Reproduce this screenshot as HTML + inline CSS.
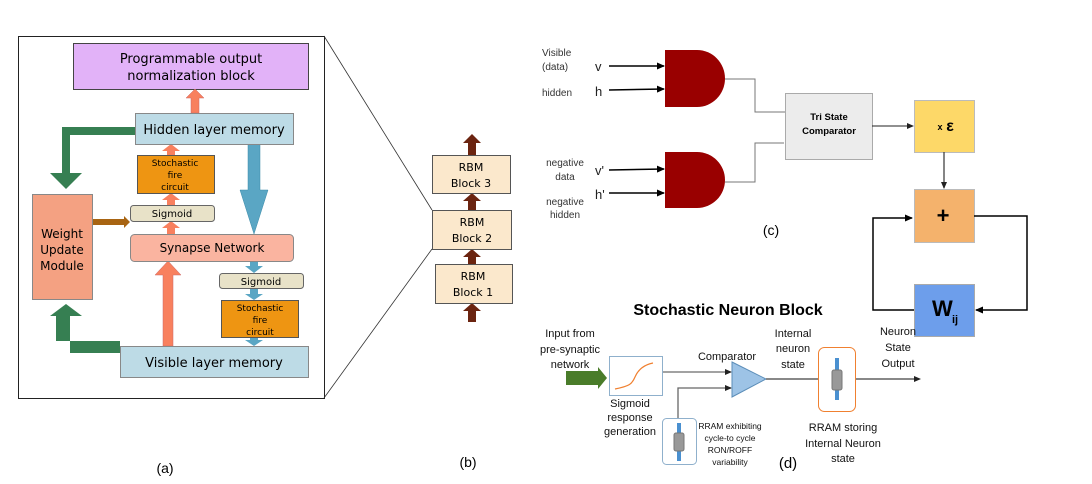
<!DOCTYPE html>
<html><head><meta charset="utf-8"><style>
html,body{margin:0;padding:0;background:#fff}
svg{display:block}
text{font-family:"DejaVu Sans","Liberation Sans",sans-serif}
.l,.l text{font-family:"Liberation Sans",sans-serif}
</style></head><body>
<svg width="1092" height="484" viewBox="0 0 1092 484" xmlns="http://www.w3.org/2000/svg">
<defs>
<marker id="ah" markerWidth="8" markerHeight="8" refX="7" refY="4" orient="auto" markerUnits="userSpaceOnUse"><path d="M0,0.5 L8,4 L0,7.5z" fill="#000"/></marker>
<marker id="ahs" markerWidth="7" markerHeight="7" refX="6" refY="3.5" orient="auto" markerUnits="userSpaceOnUse"><path d="M0,0.5 L7,3.5 L0,6.5z" fill="#222"/></marker>
</defs>
<!-- Panel a -->
<rect x="18.5" y="36.5" width="306" height="362" fill="#fff" stroke="#222" stroke-width="1"/>
<rect x="73.5" y="43.5" width="235" height="46" fill="#e2b2f8" stroke="#444"/>
<text x="191" y="63" font-size="13" text-anchor="middle">Programmable output</text>
<text x="191" y="80" font-size="13" text-anchor="middle">normalization block</text>
<path d="M135,127 L62,127 L62,173 L50,173 L66,189 L82,173 L70,173 L70,135 L135,135z" fill="#367f52"/>
<path d="M120,341 L56,341 L56,316 L50,316 L66,304 L82,316 L70,316 L70,353 L120,353z" fill="#367f52"/>
<path d="M191,113 L191,98 L186,98 L195,89 L204,98 L199,98 L199,113z" fill="#f8805e" stroke="#c66" stroke-width=".5"/>
<path d="M167,155 L167,151 L162,151 L171,144 L180,151 L175,151 L175,155z" fill="#f8805e"/>
<path d="M167,205 L167,200 L162,200 L171,193 L180,200 L175,200 L175,205z" fill="#f8805e"/>
<path d="M167,234 L167,228 L162,228 L171,221 L180,228 L175,228 L175,234z" fill="#f8805e"/>
<path d="M163,346 L163,275 L155,275 L168,261 L181,275 L173,275 L173,346z" fill="#f8805e" stroke="#c66" stroke-width=".5"/>
<path d="M248,144 L248,190 L240,190 L254,234 L268,190 L260,190 L260,144z" fill="#5aa6c4" stroke="#3a8aa8" stroke-width=".5"/>
<path d="M250,261 L250,266 L245,266 L254,273 L263,266 L258,266 L258,261z" fill="#5aa6c4"/>
<path d="M250,288 L250,294 L245,294 L254,300 L263,294 L258,294 L258,288z" fill="#5aa6c4"/>
<path d="M250,337 L250,340 L245,340 L254,346 L263,340 L258,340 L258,337z" fill="#5aa6c4"/>
<path d="M92,219 L124,219 L124,216 L130,222 L124,228 L124,225 L92,225z" fill="#a86412"/>
<rect x="135.5" y="113.5" width="158" height="31" fill="#bddbe6" stroke="#888"/>
<text x="214" y="134" font-size="13" text-anchor="middle">Hidden layer memory</text>
<rect x="137.5" y="155.5" width="77" height="38" fill="#ee9512" stroke="#555"/>
<text x="175" y="166" font-size="9" text-anchor="middle">Stochastic</text>
<text x="175" y="178" font-size="9" text-anchor="middle">fire</text>
<text x="175" y="190" font-size="9" text-anchor="middle">circuit</text>
<rect x="130.5" y="205.5" width="84" height="16" rx="3" fill="#e8e2c8" stroke="#666"/>
<text x="172" y="217" font-size="10" text-anchor="middle">Sigmoid</text>
<rect x="130.5" y="234.5" width="163" height="27" rx="4" fill="#fab4a0" stroke="#888"/>
<text x="212" y="252" font-size="12" text-anchor="middle">Synapse Network</text>
<rect x="32.5" y="194.5" width="60" height="105" fill="#f4a182" stroke="#888"/>
<text x="62" y="238" font-size="12" text-anchor="middle">Weight</text>
<text x="62" y="254" font-size="12" text-anchor="middle">Update</text>
<text x="62" y="270" font-size="12" text-anchor="middle">Module</text>
<rect x="219.5" y="273.5" width="84" height="15" rx="3" fill="#e8e2c8" stroke="#666"/>
<text x="261" y="285" font-size="10" text-anchor="middle">Sigmoid</text>
<rect x="221.5" y="300.5" width="77" height="37" fill="#ee9512" stroke="#555"/>
<text x="260" y="311" font-size="9" text-anchor="middle">Stochastic</text>
<text x="260" y="323" font-size="9" text-anchor="middle">fire</text>
<text x="260" y="335" font-size="9" text-anchor="middle">circuit</text>
<rect x="120.5" y="346.5" width="188" height="31" fill="#bddbe6" stroke="#888"/>
<text x="214" y="367" font-size="13" text-anchor="middle">Visible layer memory</text>
<text x="165" y="473" font-size="14" class="l" text-anchor="middle">(a)</text>
<!-- Panel b -->
<line x1="324" y1="36" x2="432" y2="210" stroke="#333" stroke-width=".8"/>
<line x1="324" y1="398" x2="432" y2="249" stroke="#333" stroke-width=".8"/>
<g fill="#6b2410">
<path d="M468,155 L468,143 L463,143 L472,134 L481,143 L476,143 L476,155z"/>
<path d="M468,210 L468,201 L463,201 L472,193 L481,201 L476,201 L476,210z"/>
<path d="M468,264 L468,257 L463,257 L472,249 L481,257 L476,257 L476,264z"/>
<path d="M468,322 L468,311 L463,311 L472,303 L481,311 L476,311 L476,322z"/>
</g>
<rect x="432.5" y="155.5" width="78" height="38" fill="#fbe8cc" stroke="#555"/>
<text x="471" y="171" font-size="11" text-anchor="middle">RBM</text>
<text x="471" y="187" font-size="11" text-anchor="middle">Block 3</text>
<rect x="432.5" y="210.5" width="79" height="39" fill="#fbe8cc" stroke="#555"/>
<text x="472" y="226" font-size="11" text-anchor="middle">RBM</text>
<text x="472" y="242" font-size="11" text-anchor="middle">Block 2</text>
<rect x="435.5" y="264.5" width="77" height="39" fill="#fbe8cc" stroke="#555"/>
<text x="473" y="280" font-size="11" text-anchor="middle">RBM</text>
<text x="473" y="296" font-size="11" text-anchor="middle">Block 1</text>
<text x="468" y="467" font-size="14" class="l" text-anchor="middle">(b)</text>
<!-- Panel c -->
<g class="l" font-size="10" fill="#333">
<text x="542" y="56">Visible</text><text x="542" y="70">(data)</text>
<text x="542" y="96">hidden</text>
<text x="565" y="166" text-anchor="middle">negative</text><text x="565" y="180" text-anchor="middle">data</text>
<text x="565" y="205" text-anchor="middle">negative</text><text x="565" y="218" text-anchor="middle">hidden</text>
</g>
<g class="l" font-size="13" fill="#222">
<text x="595" y="71">v</text><text x="595" y="96">h</text>
<text x="595" y="175">v'</text><text x="595" y="199">h'</text>
</g>
<g stroke="#000" stroke-width="1.5" marker-end="url(#ah)">
<line x1="609" y1="66" x2="664" y2="66"/><line x1="609" y1="90" x2="664" y2="89"/>
<line x1="609" y1="170" x2="664" y2="169"/><line x1="609" y1="193" x2="664" y2="193"/>
</g>
<path d="M665,50 L697,50 A28,28.5 0 0 1 697,107 L665,107z" fill="#990000"/>
<path d="M665,152 L697,152 A28,28 0 0 1 697,208 L665,208z" fill="#990000"/>
<path d="M725,79 L755,79 L755,112 L785,112 M725,182 L755,182 L755,143 L784,143" fill="none" stroke="#777" stroke-width="1"/>
<rect x="785.5" y="93.5" width="87" height="66" fill="#ececec" stroke="#aaa"/>
<text x="829" y="120" font-size="9.5" font-weight="bold" class="l" text-anchor="middle">Tri State</text>
<text x="829" y="134" font-size="9.5" font-weight="bold" class="l" text-anchor="middle">Comparator</text>
<line x1="872" y1="126" x2="913" y2="126" stroke="#222" marker-end="url(#ahs)"/>
<rect x="914.5" y="100.5" width="60" height="52" fill="#fdd868" stroke="#bbb"/>
<text x="940" y="130" font-size="9" font-weight="bold" class="l" text-anchor="middle">x</text>
<text x="950" y="131" font-size="16" font-weight="bold" class="l" text-anchor="middle">ε</text>
<line x1="944" y1="152" x2="944" y2="188" stroke="#333" stroke-width="1.2" marker-end="url(#ahs)"/>
<rect x="914.5" y="189.5" width="60" height="53" fill="#f4b26c" stroke="#bbb"/>
<text x="943" y="223" font-size="22" font-weight="bold" class="l" text-anchor="middle">+</text>
<rect x="914.5" y="284.5" width="60" height="52" fill="#6d9eeb" stroke="#aaa"/>
<text x="932" y="316" font-size="22" font-weight="bold" class="l">W</text>
<text x="952" y="323" font-size="11" font-weight="bold" class="l">ij</text>
<path d="M974,216 L1027,216 L1027,310 L976,310" fill="none" stroke="#000" stroke-width="1.5" marker-end="url(#ah)"/>
<path d="M914,310 L873,310 L873,218 L912,218" fill="none" stroke="#000" stroke-width="1.5" marker-end="url(#ah)"/>
<text x="771" y="235" font-size="14" class="l" text-anchor="middle">(c)</text>
<!-- Panel d -->
<text x="728" y="315" font-size="16" font-weight="bold" class="l" text-anchor="middle">Stochastic Neuron Block</text>
<g font-size="11" class="l" fill="#111" text-anchor="middle">
<text x="570" y="337">Input from</text><text x="570" y="353">pre-synaptic</text><text x="570" y="368">network</text>
<text x="727" y="360">Comparator</text>
<text x="793" y="337">Internal</text><text x="793" y="352">neuron</text><text x="793" y="368">state</text>
<text x="898" y="335">Neuron</text><text x="898" y="351">State</text><text x="898" y="367">Output</text>
<text x="630" y="407">Sigmoid</text><text x="630" y="421">response</text><text x="630" y="435">generation</text>
<text x="843" y="431">RRAM storing</text><text x="843" y="447">Internal Neuron</text><text x="843" y="462">state</text>
</g>
<g font-size="8.5" class="l" fill="#111" text-anchor="middle">
<text x="730" y="429">RRAM exhibiting</text><text x="730" y="441">cycle-to cycle</text><text x="730" y="453">RON/ROFF</text><text x="730" y="465">variability</text>
</g>
<text x="788" y="468" font-size="15" class="l" text-anchor="middle">(d)</text>
<path d="M566,371 L598,371 L598,367 L607,378 L598,389 L598,385 L566,385z" fill="#4a7c2a"/>
<rect x="609.5" y="356.5" width="53" height="39" fill="#fff" stroke="#8fb0cc"/>
<path d="M615,389 C630,386 632,384 635,377 C638,370 643,365 653,363" fill="none" stroke="#f08030" stroke-width="1.2"/>
<line x1="663" y1="372" x2="731" y2="372" stroke="#444" marker-end="url(#ahs)"/>
<path d="M678,419 L678,388 L731,388" fill="none" stroke="#666" stroke-width="1.3" marker-end="url(#ahs)"/>
<path d="M732,362 L766,379 L732,397z" fill="#9dc3e6" stroke="#5b8db8"/>
<line x1="766" y1="379" x2="920" y2="379" stroke="#111" marker-end="url(#ahs)"/>
<rect x="662.5" y="418.5" width="34" height="46" rx="4" fill="#fff" stroke="#8fb0cc"/>
<rect x="677" y="423" width="4" height="38" fill="#4a90d0"/>
<rect x="674" y="433" width="10" height="18" rx="2" fill="#999" stroke="#777"/>
<rect x="818.5" y="347.5" width="37" height="64" rx="6" fill="#fff" stroke="#f08030"/>
<rect x="835" y="358" width="4" height="42" fill="#4a90d0"/>
<rect x="832" y="370" width="10" height="20" rx="2" fill="#999" stroke="#777"/>
</svg>
</body></html>
